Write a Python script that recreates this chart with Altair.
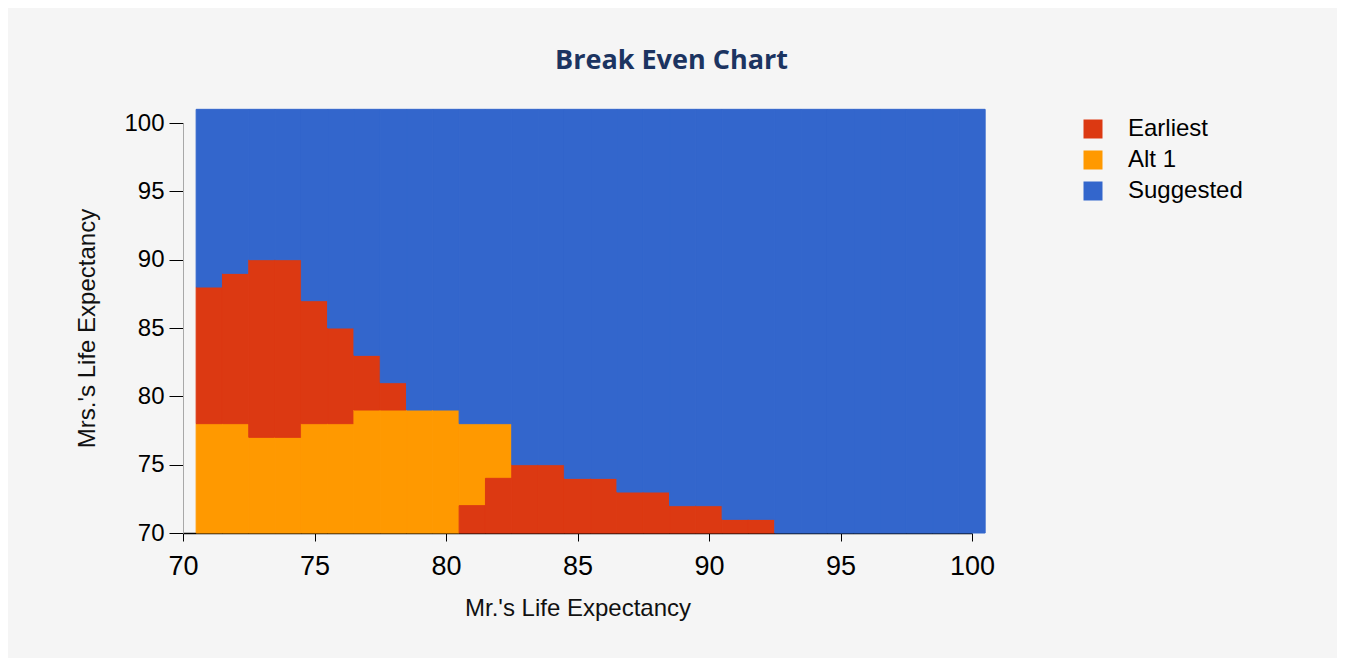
import altair as alt
import pandas as pd

# ---- data ----
mr_age = list(range(71, 101))
alt1_lo = [70, 70, 70, 70, 70, 70, 70, 70, 70, 70, 72, 74] + [None] * 18
alt1_hi = [78, 78, 77, 77, 78, 78, 79, 79, 79, 79, 78, 78] + [None] * 18
earliest_lo = [78, 78, 77, 77, 78, 78, 79, 79, None, None, 70, 70,
               70, 70, 70, 70, 70, 70, 70, 70, 70, 70] + [None] * 8
earliest_hi = [88, 89, 90, 90, 87, 85, 83, 81, None, None, 72, 74,
               75, 75, 74, 74, 73, 73, 72, 72, 71, 71] + [None] * 8
suggested_lo = [88, 89, 90, 90, 87, 85, 83, 81, 79, 79, 78, 78,
                75, 75, 74, 74, 73, 73, 72, 72, 71, 71] + [70] * 8
suggested_hi = [101] * 30

categories = ["Earliest", "Alt 1", "Suggested"]
colors = ["#DC3912", "#FF9900", "#3366CC"]
tick_values = [70, 75, 80, 85, 90, 95, 100]

rows = []
for i, m in enumerate(mr_age):
    for cat, lo, hi in (("Alt 1", alt1_lo[i], alt1_hi[i]),
                        ("Earliest", earliest_lo[i], earliest_hi[i]),
                        ("Suggested", suggested_lo[i], suggested_hi[i])):
        if lo is not None:
            rows.append({"x0": m - 0.5, "x1": m + 0.5, "y0": lo, "y1": hi, "cat": cat})
df = pd.DataFrame(rows)

color_scale = alt.Scale(domain=categories, range=colors)
FONT = "Liberation Sans"

chart = alt.Chart(df).mark_rect(strokeWidth=1).encode(
    x=alt.X("x0:Q", scale=alt.Scale(domain=[70, 100], nice=False, zero=False),
            axis=alt.Axis(values=tick_values, title="Mr.'s Life Expectancy",
                          grid=False, tickSize=8, tickColor="#000", domainColor="#000",
                          domainWidth=1.5, labelFont=FONT, labelFlush=False,
                          labelFontSize=27, labelColor="#000", labelPadding=12,
                          titleFont=FONT, titleFontSize=24,
                          titleFontWeight="normal", titleColor="#111", titlePadding=17)),
    x2="x1:Q",
    y=alt.Y("y0:Q", scale=alt.Scale(domain=[70, 100], nice=False, zero=False),
            axis=alt.Axis(values=tick_values, title="Mrs.'s Life Expectancy",
                          grid=False, tickSize=14, tickColor="#000", domainColor="#a8a8a8",
                          labelFont=FONT, labelFontSize=24, labelColor="#000",
                          labelFlush=False, labelPadding=5, titleFont=FONT,
                          titleFontSize=24, titleFontWeight="normal", titleColor="#111",
                          titlePadding=24)),
    y2="y1:Q",
    color=alt.Color("cat:N", scale=color_scale, title=None,
                    legend=alt.Legend(orient="none", legendX=898, legendY=-6,
                                      symbolType="square", symbolSize=361,
                                      symbolStrokeWidth=0, labelFont=FONT,
                                      labelFontSize=24, labelColor="#000",
                                      labelOffset=23, rowPadding=7)),
    stroke=alt.Stroke("cat:N", scale=color_scale, legend=None),
).properties(
    width=789,
    height=410,
    padding={"left": 175, "top": 115, "right": 365, "bottom": 125},
    autosize=alt.AutoSizeParams(type="none"),
    background="#f5f5f5",
    title=alt.TitleParams("Break Even Chart", font="Open Sans", fontSize=27,
                          fontWeight="bold", color="#1c3461", anchor="middle",
                          frame="group", dx=94, offset=34),
).configure_view(strokeWidth=0)

chart.save("out.html", embed_options={"renderer": "svg", "actions": False})
